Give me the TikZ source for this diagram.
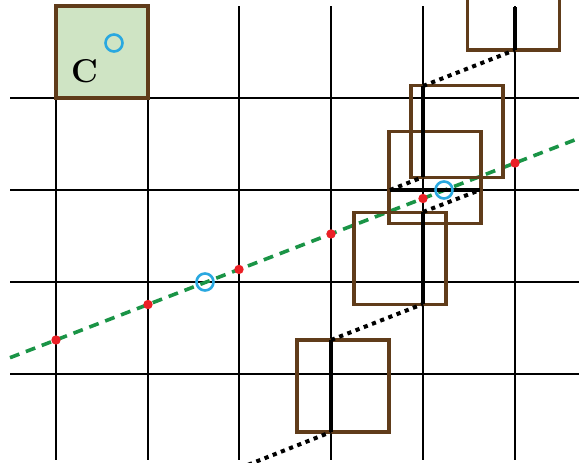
\documentclass[tikz,border=0pt]{standalone}
\usepackage{tikz}
\usetikzlibrary{positioning,calc}
\definecolor{frame}{RGB}{96,60,26}
\definecolor{leaf}{RGB}{207,228,196}
\definecolor{trailgreen}{RGB}{26,148,70}
\definecolor{dotred}{RGB}{235,32,38}
\definecolor{ringblue}{RGB}{41,168,224}

\begin{document}
\begin{tikzpicture}[x=1pt,y=-1pt,gridline/.style={line width=1.6pt},cell/.style={draw=frame,line width=3.3pt,minimum size=92pt,inner sep=0pt},seg/.style={line width=4.6pt},hop/.style={line width=4pt,dash pattern=on 4.2pt off 4.6pt},trend/.style={trailgreen,line width=3.6pt,dash pattern=on 10pt off 7pt},hit/.style={circle,fill=dotred,inner sep=0pt,minimum size=9.4pt},ring/.style={circle,draw=ringblue,line width=2.6pt,inner sep=0pt,minimum size=17pt}]
 \useasboundingbox (0,0) rectangle (579,463);
 \clip (0,0) rectangle (579,463);
 \foreach \x in {56,148,239,331,423,515} \draw[gridline] (\x,6) -- (\x,460);
 \foreach \y in {98,190,282,374} \draw[gridline] (10,\y) -- (579,\y);
 \node[cell,fill=leaf] (goal) at (102,52) {};
 \node[font=\fontsize{33}{33}\selectfont\bfseries] (lbl) at (84.5,71) {C};
 \node[ring] (o1) at (114,43) {};
 \coordinate (g0) at (10,357.7); \coordinate (g1) at (579,138.3);
 \draw[trend] (g0) -- (g1);
 \foreach \x in {56,148,239,331,423,515} \node[hit] (h\x) at (\x,{340-0.3856*(\x-56)}) {};
 \node[cell] (q1) at (513.5,4) {};
 \node[cell] (q2) at (457,131.5) {};
 \node[cell] (q3) at (435,177.5) {};
 \node[cell] (q4) at (400,258.5) {};
 \node[cell] (q5) at (343,386) {};
 \coordinate (a0) at (240,468); \coordinate (a1) at (331,432); \coordinate (a2) at (331,340);
 \coordinate (a3) at (423,304); \coordinate (a4) at (423,212); \coordinate (a5) at (480,190);
 \coordinate (a6) at (390,190); \coordinate (a7) at (423,177); \coordinate (a8) at (423,86);
 \coordinate (a9) at (515,50); \coordinate (a10) at (515,7);
 \draw[hop] (a0)--(a1); \draw[hop] (a2)--(a3); \draw[hop] (a4)--(a5); \draw[hop] (a6)--(a7); \draw[hop] (a8)--(a9);
 \draw[seg] (a1)--(a2); \draw[seg] (a3)--(a4); \draw[seg] (a5)--(a6); \draw[seg] (a7)--(a8); \draw[seg] (a9)--(a10);
 \node[ring] (o2) at (205,282) {};
 \node[ring] (o3) at (444,190) {};
\end{tikzpicture}
\end{document}
